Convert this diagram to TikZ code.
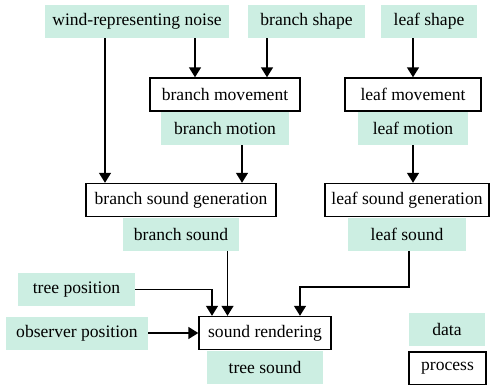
\documentclass[tikz,border=0pt]{standalone}
\usepackage{fontspec}
\setmainfont{Liberation Serif}
\usepackage{tikz}
\usetikzlibrary{arrows.meta, positioning, calc}
\definecolor{mydark}{RGB}{0,0,0}
\definecolor{hdrmint}{RGB}{204,238,226}
\tikzset{
  datatag/.style={rectangle, fill=hdrmint, inner sep=0pt,
    minimum height=0.66cm, font=\fontsize{10}{12}\selectfont},
  procbox/.style={rectangle, draw=mydark, fill=white, inner sep=0pt,
    minimum height=0.66cm, font=\fontsize{10}{12}\selectfont, line width=0.8pt},
  arrow/.style={-{Triangle[width=0.24cm,length=0.2cm]}, line width=0.8pt, color=mydark}
}
\begin{document}
\begin{tikzpicture}[x=0.02cm, y=-0.02cm, node distance=0pt]
  \useasboundingbox (0,0) rectangle (490,385);

  % Inputs along the top
  \node[datatag, minimum width=3.68cm] (noise) at (137,21.5) {wind-representing noise};
  \node[datatag, minimum width=2.36cm] (bshape) at (306.5,21.5) {branch shape};
  \node[datatag, minimum width=1.92cm] (lshape) at (429,21.5) {leaf shape};

  % Movement stage
  \node[procbox, minimum width=3.0cm] (bmove) at (225,94.5) {branch movement};
  \node[datatag, minimum width=2.56cm, below=of bmove] (bmotion) {branch motion};
  \node[procbox, minimum width=2.72cm] (lmove) at (413,94.5) {leaf movement};
  \node[datatag, minimum width=2.2cm, below=of lmove] (lmotion) {leaf motion};

  % Sound generation stage
  \node[procbox, minimum width=3.8cm] (bgen) at (181,200) {branch sound generation};
  \node[datatag, minimum width=2.34cm, below=of bgen] (bsound) {branch sound};
  \node[procbox, minimum width=3.28cm] (lgen) at (407,200) {leaf sound generation};
  \node[datatag, minimum width=2.36cm, below=of lgen] (lsound) {leaf sound};

  % Rendering stage
  \node[datatag, minimum width=2.34cm] (tpos) at (76.5,289.5) {tree position};
  \node[datatag, minimum width=2.84cm] (opos) at (77,333) {observer position};
  \node[procbox, minimum width=2.64cm] (render) at (265,333) {sound rendering};
  \node[datatag, minimum width=2.34cm, below=of render] (tsound) {tree sound};

  % Legend
  \node[datatag, minimum width=1.52cm] (legdata) at (447,329.5) {data};
  \node[procbox, minimum width=1.54cm] (legproc) at (447.5,368.5) {process};

  % Arrow entry points
  \coordinate (noiseout) at ($(noise.south)+(-32,0)$);
  \coordinate (bmovein1) at ($(bmove.north)+(-30,0)$);
  \coordinate (bmovein2) at ($(bmove.north)+(42,0)$);
  \coordinate (bmotionout) at ($(bmotion.south)+(17,0)$);
  \coordinate (bsoundout) at ($(bsound.south)+(46.5,0)$);
  \coordinate (lsoundout) at ($(lsound.south)+(2,0)$);
  \coordinate (renderin1) at ($(render.north)+(-53,0)$);
  \coordinate (renderin2) at ($(render.north)+(35,0)$);

  % Connections
  \draw[arrow] (noiseout) -- (noiseout |- bgen.north);
  \draw[arrow] (bmovein1 |- noise.south) -- (bmovein1);
  \draw[arrow] (bmovein2 |- bshape.south) -- (bmovein2);
  \draw[arrow] (lmove.north |- lshape.south) -- (lmove.north);
  \draw[arrow] (bmotionout) -- (bmotionout |- bgen.north);
  \draw[arrow] (lmotion.south) -- (lmotion.south |- lgen.north);
  \draw[arrow] (bsoundout) -- (bsoundout |- render.north);
  \draw[arrow] (tpos.east) -| (renderin1);
  \draw[arrow] (opos.east) -- (render.west);
  \draw[arrow] (lsoundout) -- ++(0,36) -| (renderin2);
\end{tikzpicture}
\end{document}
